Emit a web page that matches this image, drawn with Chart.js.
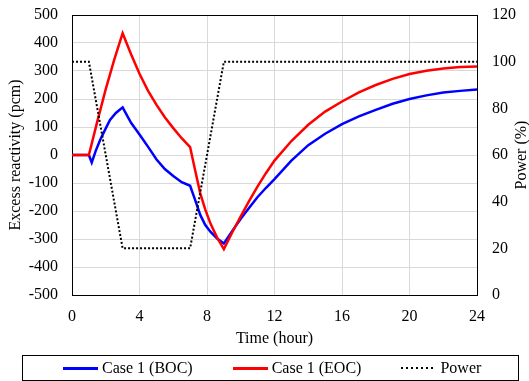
<!DOCTYPE html>
<html>
<head>
<meta charset="utf-8">
<script src="https://cdn.jsdelivr.net/npm/chart.js@4/dist/chart.umd.min.js"></script>
<style>
html,body{margin:0;padding:0;background:#fff;}
#wrap{position:relative;width:529px;height:381px;overflow:hidden;}
#legend{position:absolute;left:22px;top:355px;width:497px;height:26px;border:1px solid #000;box-sizing:border-box;
  font-family:"Liberation Serif","Times New Roman",serif;font-size:16px;color:#000;display:flex;align-items:center;padding-left:40px;gap:40px;white-space:nowrap;}
.item{display:flex;align-items:center;}
.sample{width:35px;height:3px;margin-right:4px;}
</style>
</head>
<body>
<div id="wrap">
<canvas id="c" width="529" height="381"></canvas>
<div id="legend"></div>
</div>
<script>
// ---- data ----
const seriesNames = ["Case 1 (BOC)", "Case 1 (EOC)", "Power"];
const xTicksStep = 4;

const timeBOC = [0, 1.0, 1.17, 1.4, 1.66, 2.0, 2.25, 2.6, 3.0, 3.5, 4.0, 4.5, 5.0, 5.5, 6.0, 6.5, 7.0, 7.3, 7.6, 7.9, 8.2, 8.6, 9.0, 9.5, 10, 10.5, 11, 11.5, 12, 13, 14, 15, 16, 17, 18, 19, 20, 21, 22, 23, 24];
const boc     = [0, 0, -27, 14, 53, 95, 125, 150, 170, 115, 73, 30, -15, -50, -75, -97, -110, -161, -214, -250, -274, -298, -316, -271, -228, -188, -150, -117, -86, -20, 35, 76, 110, 138, 161, 183, 200, 213, 223, 229, 234];

const timeEOC = [0, 1.0, 1.5, 2.0, 2.5, 3.0, 3.5, 4.0, 4.5, 5.0, 5.5, 6.0, 6.5, 7.0, 7.3, 7.6, 7.9, 8.2, 8.6, 9.0, 9.5, 10, 10.5, 11, 11.5, 12, 13, 14, 15, 16, 17, 18, 19, 20, 21, 22, 23, 24];
const eoc     = [0, 0, 120, 235, 340, 435, 360, 290, 230, 180, 135, 96, 60, 28, -55, -137, -195, -244, -295, -336, -276, -219, -164, -112, -64, -20, 50, 108, 155, 191, 224, 250, 272, 289, 301, 309, 314, 316];

const timePower = [0, 1, 3, 7, 9, 24];
const power     = [100, 100, 20, 20, 100, 100];

const toXY = (ts, vs) => ts.map((t, i) => ({x: t, y: vs[i]}));

Chart.defaults.font.family = '"Liberation Serif", "Times New Roman", serif';
Chart.defaults.font.size = 16;
Chart.defaults.color = '#000';

const frame = {
  id: 'frame',
  beforeDatasetsDraw(chart) {
    const {ctx, chartArea: a} = chart;
    ctx.save();
    ctx.strokeStyle = '#000';
    ctx.lineWidth = 1;
    ctx.strokeRect(Math.round(a.left) + 0.5, Math.round(a.top) + 0.5, Math.round(a.right - a.left), Math.round(a.bottom - a.top));
    ctx.restore();
  },
  afterDraw(chart) {
    const {ctx, chartArea: a} = chart;
    ctx.save();
    ctx.translate(522, (a.top + a.bottom) / 2);
    ctx.rotate(-Math.PI / 2);
    ctx.font = '16px "Liberation Serif"';
    ctx.fillStyle = '#000';
    ctx.textAlign = 'center';
    ctx.textBaseline = 'middle';
    ctx.fillText('Power (%)', 0, 0);
    ctx.restore();
  }
};

const noPad = s => { s.paddingTop = 0; s.paddingBottom = 0; s.paddingLeft = 0; s.paddingRight = 0; };

const chart = new Chart(document.getElementById('c'), {
  type: 'line',
  data: {
    datasets: [
      {label: seriesNames[0], data: toXY(timeBOC, boc), borderColor: '#0000FF', borderWidth: 2.5, pointRadius: 0, tension: 0, yAxisID: 'y', order: 2},
      {label: seriesNames[1], data: toXY(timeEOC, eoc), borderColor: '#FF0000', borderWidth: 2.5, pointRadius: 0, tension: 0, yAxisID: 'y', order: 1},
      {label: seriesNames[2], data: toXY(timePower, power), borderColor: '#000000', borderWidth: 2, borderDash: [2, 2], pointRadius: 0, tension: 0, yAxisID: 'y1', order: 0}
    ]
  },
  options: {
    responsive: false,
    animation: false,
    devicePixelRatio: 1,
    layout: {padding: {left: 3, right: 13, top: 15, bottom: 33}},
    plugins: {legend: {display: false}, tooltip: {enabled: false}},
    scales: {
      x: {
        type: 'linear', min: 0, max: 24,
        ticks: {stepSize: xTicksStep, padding: 12},
        grid: {color: '#d9d9d9', drawTicks: false},
        border: {display: false},
        title: {display: true, text: 'Time (hour)', padding: {top: 3, bottom: 0}},
        afterFit(s) { s.height = 53; noPad(s); }
      },
      y: {
        position: 'left', min: -500, max: 500,
        ticks: {stepSize: 100, padding: 14},
        grid: {color: '#d9d9d9', drawTicks: false},
        border: {display: false},
        title: {display: true, text: 'Excess reactivity (pcm)', padding: {top: 3, bottom: 3}},
        afterFit(s) { s.width = 69; noPad(s); }
      },
      y1: {
        position: 'right', min: 0, max: 120,
        ticks: {stepSize: 20, padding: 15},
        grid: {drawOnChartArea: false, drawTicks: false},
        border: {display: false},
        afterFit(s) { s.width = 39; noPad(s); }
      }
    }
  },
  plugins: [frame]
});

// HTML legend built from datasets
const leg = document.getElementById('legend');
chart.data.datasets.forEach(ds => {
  const item = document.createElement('div');
  item.className = 'item';
  const s = document.createElement('span');
  s.className = 'sample';
  if (ds.borderDash) {
    s.style.height = '2px';
    s.style.background = 'repeating-linear-gradient(to right,#000 0 2px,transparent 2px 5px)';
  } else {
    s.style.background = ds.borderColor;
  }
  const t = document.createElement('span');
  t.textContent = ds.label;
  item.appendChild(s); item.appendChild(t);
  leg.appendChild(item);
});
</script>
</body>
</html>
